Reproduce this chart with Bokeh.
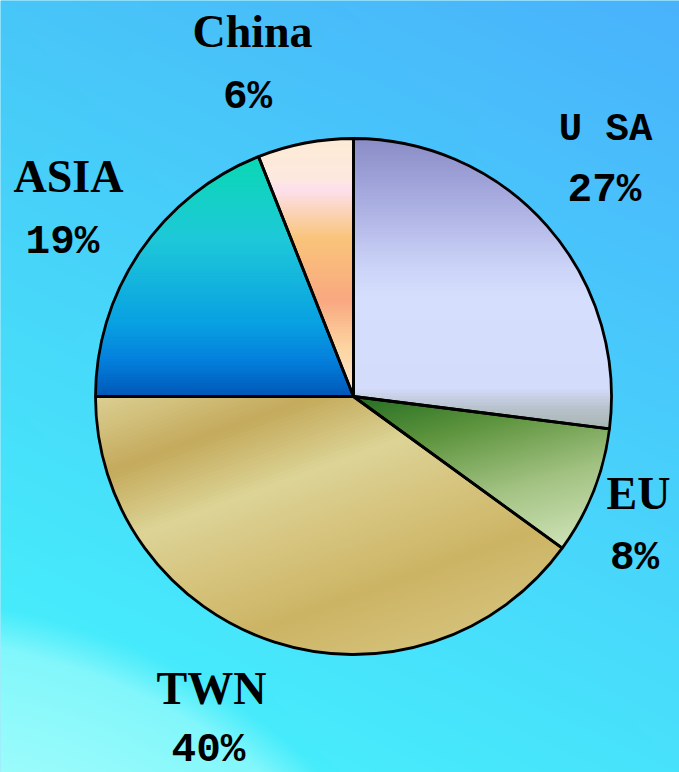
import numpy as np
from bokeh.plotting import figure
from bokeh.models import Range1d, ColumnDataSource
from bokeh.core.properties import value
from bokeh.embed import file_html
from bokeh.resources import INLINE

# ---------------- data ----------------
categories = ["USA", "EU", "TWN", "ASIA", "China"]
name_labels = ["U SA", "EU", "TWN", "ASIA", "China"]
shares = [27, 8, 40, 19, 6]
pct_labels = [f"{v}%" for v in shares]

# ---------------- layout / style ----------------
W, H = 679, 772
OX, OY = 0, 772          # ref pixel -> data: x = rx - OX, y = OY - ry
CX, CY, R = 353 - OX, OY - 396, 258

def dx(rx):
    return rx - OX

def dy(ry):
    return OY - ry

# gradient stops per slice: (direction angle deg, [(fraction, colour)])
grad = {
    "USA":   (-90, [(0.0, "#8a8cc6"), (0.2, "#a6aade"), (0.45, "#ccd4f8"), (0.55, "#d6defd"),
                    (0.86, "#d4dcfc"), (0.93, "#b8c2cc"), (1.0, "#a8b4b2")]),
    "EU":    (-75, [(0.0, "#246e22"), (0.3, "#5e943e"), (0.65, "#a2c282"), (1.0, "#cee2b6")]),
    "TWN":   (-70, [(0.0, "#dcd094"), (0.22, "#c4aa5c"), (0.42, "#dcd496"), (0.6, "#d6c47e"),
                    (0.8, "#ccb464"), (1.0, "#d4c078")]),
    "ASIA":  (-90, [(0.0, "#0ad8b4"), (0.35, "#1ec8d8"), (0.7, "#08a0e2"), (0.85, "#0480dc"),
                    (1.0, "#0058b8")]),
    "China": (-90, [(0.0, "#fdebd4"), (0.16, "#fde8e0"), (0.2, "#fde0ec"), (0.39, "#f9c47a"),
                    (0.63, "#f9a880"), (0.81, "#fcd4a0"), (1.0, "#fde8d0")]),
}

# (name x, name y, pct x, pct y) in reference pixels (anchor for rendered text)
label_pos = {
    "USA":   (605, 129, 604, 189),
    "EU":    (638, 493, 634, 557),
    "TWN":   (211, 688, 208, 749),
    "ASIA":  (68, 176, 62, 241),
    "China": (252, 31, 247, 96),
}


def hex2rgb(h):
    h = h.lstrip("#")
    return np.array([int(h[i:i + 2], 16) for i in (0, 2, 4)], dtype=float)


def rgb2hex(c):
    c = np.clip(np.round(c), 0, 255).astype(int)
    return "#%02x%02x%02x" % tuple(c)


def interp(stops, t):
    for (t0, c0), (t1, c1) in zip(stops[:-1], stops[1:]):
        if t <= t1:
            f = 0 if t1 == t0 else (t - t0) / (t1 - t0)
            return rgb2hex(hex2rgb(c0) * (1 - f) + hex2rgb(c1) * f)
    return stops[-1][1]


def clip(poly, d, s0, keep_greater):
    out = []
    n = len(poly)
    for i in range(n):
        P, Q = poly[i], poly[(i + 1) % n]
        sp = P @ d - s0
        sq = Q @ d - s0
        if not keep_greater:
            sp, sq = -sp, -sq
        if sp >= 0:
            out.append(P)
        if (sp >= 0) != (sq >= 0):
            t = sp / (sp - sq)
            out.append(P + t * (Q - P))
    return out


# ---------------- figure ----------------
p = figure(width=W, height=H, x_range=Range1d(0, W), y_range=Range1d(0, H),
           output_backend="svg", toolbar_location=None, min_border=0)
p.xaxis.visible = False
p.yaxis.visible = False
p.grid.visible = False
p.outline_line_color = None
p.background_fill_color = "#48d4f8"
p.border_fill_color = "#48d4f8"

# background gradient image
hw, hh = W // 2, H // 2
xs = (np.arange(hw) + 0.5) * W / hw
ys = (np.arange(hh) + 0.5) * H / hh
XX, YY = np.meshgrid(xs, ys)          # data coords, row 0 at bottom
RX = XX + OX
RY = OY - YY
u = RX / 679.0
v = RY / 772.0
TL, TR, BL, BR = (hex2rgb(c) for c in ("#48c6f8", "#4ab2fc", "#46f6fc", "#48e2fc"))
base = (TL[None, None] * ((1 - u) * (1 - v))[..., None] + TR[None, None] * (u * (1 - v))[..., None]
        + BL[None, None] * ((1 - u) * v)[..., None] + BR[None, None] * (u * v)[..., None])
dist = np.hypot(RX + 100, RY - 1200)
inside = np.clip((600 - dist) / 40.0, 0, 1) * (0.55 + 0.45 * np.clip((600 - dist) / 200.0, 0, 1))
light = hex2rgb("#a4fcfc")
col = base * (1 - inside[..., None]) + light[None, None] * inside[..., None]
img = np.empty((hh, hw), dtype=np.uint32)
view = img.view(dtype=np.uint8).reshape((hh, hw, 4))
view[..., 0] = col[..., 0]
view[..., 1] = col[..., 1]
view[..., 2] = col[..., 2]
view[..., 3] = 255
p.image_rgba(image=[img], x=0, y=0, dw=W, dh=H)

# slice angles (clockwise from 12 o'clock)
total = float(sum(shares))
cum = np.cumsum([0] + shares)
start_deg = 90 - cum[1:] / total * 360
end_deg = 90 - cum[:-1] / total * 360

# gradient bands per slice
bx, by, bc = [], [], []
for cat, a0, a1 in zip(categories, start_deg, end_deg):
    ang = np.radians(np.linspace(a0, a1, 200))
    poly = [np.array([CX, CY], float)] + [np.array([CX + R * np.cos(a), CY + R * np.sin(a)]) for a in ang]
    gdeg, stops = grad[cat]
    d = np.array([np.cos(np.radians(gdeg)), np.sin(np.radians(gdeg))])
    s = [pt @ d for pt in poly]
    smin, smax = min(s), max(s)
    nb = 90
    step = (smax - smin) / nb
    for k in range(nb):
        lo = smin + k * step - 0.6
        hi = smin + (k + 1) * step + 0.6
        q = clip(poly, d, lo, True)
        if len(q) < 3:
            continue
        q = clip(q, d, hi, False)
        if len(q) < 3:
            continue
        bx.append([pt[0] for pt in q])
        by.append([pt[1] for pt in q])
        bc.append(interp(stops, (k + 0.5) / nb))
p.patches(xs=bx, ys=by, fill_color=bc, line_color=None)

# slice outlines
src = ColumnDataSource(dict(cat=categories, share=shares,
                            start=np.radians(start_deg), end=np.radians(end_deg)))
p.wedge(x=CX, y=CY, radius=R, start_angle="start", end_angle="end", source=src,
        fill_alpha=0, line_color="black", line_width=2.8)

# labels
name_fonts = ["Liberation Mono" if c == "USA" else "Liberation Serif" for c in categories]
name_sizes = ["39px" if c == "USA" else "46px" for c in categories]
lsrc = ColumnDataSource(dict(
    text=name_labels,
    x=[dx(label_pos[c][0]) for c in categories],
    y=[dy(label_pos[c][1]) for c in categories],
    font=name_fonts, size=name_sizes))
p.text(x="x", y="y", text="text", source=lsrc, text_font="font", text_font_size="size",
       text_font_style="bold", text_align="center", text_baseline="alphabetic", text_color="black")

psrc = ColumnDataSource(dict(
    text=pct_labels,
    x=[dx(label_pos[c][2]) for c in categories],
    y=[dy(label_pos[c][3]) for c in categories]))
p.text(x="x", y="y", text="text", source=psrc, text_font=value("Liberation Mono"),
       text_font_size="41px", text_font_style="bold", text_align="center",
       text_baseline="alphabetic", text_color="black")

open("out.html", "w").write(file_html(p, INLINE))
